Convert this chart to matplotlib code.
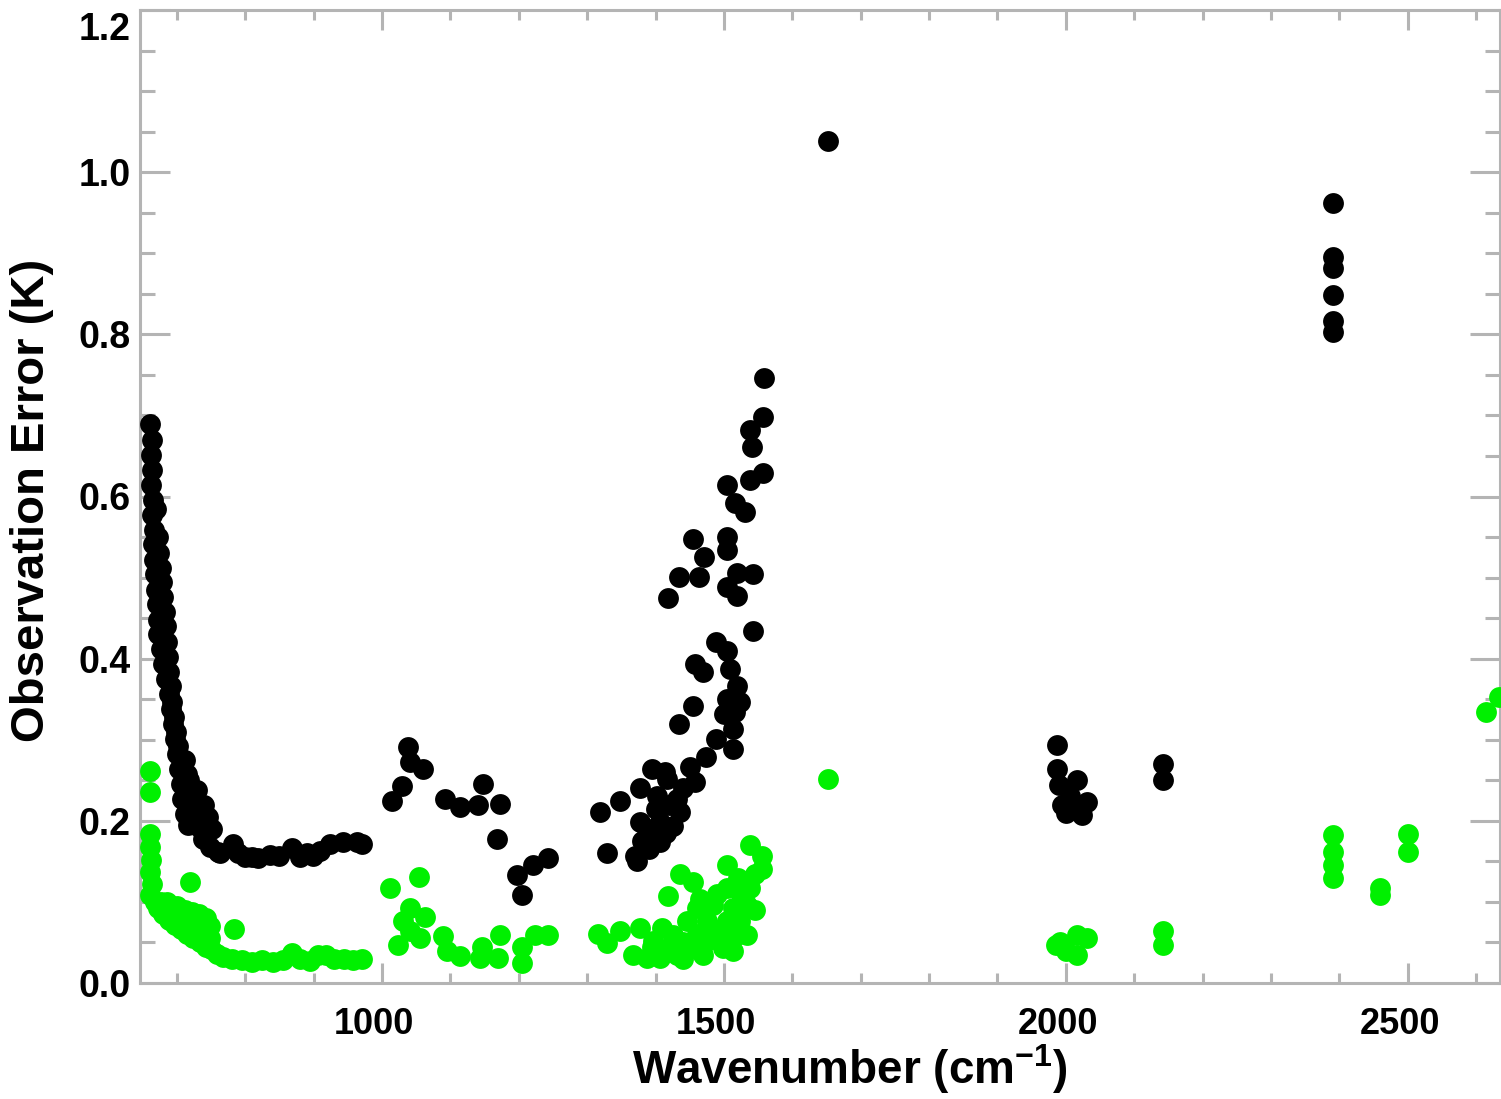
import matplotlib
matplotlib.use("Agg")
import matplotlib.pyplot as plt
import matplotlib.transforms as mtransforms
from matplotlib.ticker import FixedLocator, MultipleLocator, FuncFormatter

# ---------------- data ----------------
# black series: wavenumber (cm-1) and observation error (K)
black_wn = [
    661, 663, 662, 664, 662, 665, 663, 670, 666, 672, 665, 674, 667, 676, 668, 678, 669, 680,
    671, 682, 672, 684, 673, 686, 676, 687, 680, 689, 684, 691, 688, 693, 691, 695, 694, 698,
    697, 701, 700, 712, 703, 715, 706, 718, 730, 708, 722, 740, 712, 728, 745, 716, 732, 752,
    738, 748, 760,
    763, 782, 790, 800, 810, 819, 836, 850, 868, 880, 890, 899, 909, 924, 943, 963, 971,
    1038, 1060, 1041, 1029, 1015, 1092, 1114, 1140, 1173, 1148, 1168, 1197, 1221, 1243, 1205,
    1559, 1557, 1538, 1541, 1557, 1538, 1505, 1516, 1531, 1455, 1505, 1505, 1471, 1519, 1543,
    1434, 1464, 1505, 1519, 1418, 1543, 1489, 1505, 1458, 1470, 1509, 1519, 1505, 1524, 1455,
    1500, 1516, 1434, 1513, 1488, 1513, 1474, 1450, 1395, 1414,
    1458, 1417, 1377, 1348, 1319, 1402, 1431, 1436, 1377, 1407, 1426, 1388, 1407, 1370, 1329,
    1373, 1440, 1400, 1415, 1390, 1420, 1395, 1380,
    1652,
    1987, 1987, 1990, 2016, 1995, 2016, 2031, 2024, 2006, 2000,
    2142, 2142,
    2391, 2391, 2391, 2391, 2391, 2391,
]
black_err = [
    0.689, 0.670, 0.651, 0.633, 0.614, 0.596, 0.577, 0.585, 0.559, 0.550, 0.541, 0.530, 0.522,
    0.512, 0.504, 0.495, 0.485, 0.476, 0.467, 0.458, 0.448, 0.440, 0.430, 0.421, 0.412, 0.402,
    0.393, 0.384, 0.375, 0.366, 0.356, 0.347, 0.338, 0.328, 0.319, 0.310, 0.301, 0.292, 0.283,
    0.275, 0.264, 0.258, 0.246, 0.250, 0.238, 0.227, 0.230, 0.220, 0.209, 0.212, 0.205, 0.195,
    0.192, 0.190, 0.178, 0.168, 0.162,
    0.160, 0.172, 0.160, 0.156, 0.155, 0.154, 0.158, 0.157, 0.166, 0.156, 0.160, 0.157, 0.163,
    0.172, 0.174, 0.174, 0.172,
    0.291, 0.264, 0.273, 0.243, 0.224, 0.227, 0.217, 0.219, 0.221, 0.246, 0.178, 0.133, 0.145,
    0.154, 0.108,
    0.746, 0.698, 0.682, 0.661, 0.629, 0.620, 0.614, 0.592, 0.581, 0.547, 0.550, 0.534, 0.526,
    0.506, 0.504, 0.501, 0.501, 0.489, 0.477, 0.475, 0.434, 0.420, 0.409, 0.393, 0.383, 0.387,
    0.366, 0.350, 0.346, 0.342, 0.332, 0.334, 0.319, 0.313, 0.301, 0.289, 0.279, 0.267, 0.264,
    0.260,
    0.248, 0.252, 0.240, 0.224, 0.211, 0.231, 0.227, 0.211, 0.199, 0.199, 0.194, 0.182, 0.174,
    0.157, 0.160, 0.150, 0.240, 0.215, 0.185, 0.165, 0.220, 0.190, 0.175,
    1.038,
    0.293, 0.264, 0.244, 0.250, 0.219, 0.215, 0.223, 0.207, 0.231, 0.210,
    0.270, 0.250,
    0.962, 0.895, 0.882, 0.848, 0.817, 0.803,
]

# green series
green_wn = [
    661, 661, 661, 660, 662, 660, 663, 661, 668, 672, 676, 680, 686, 688, 692, 697, 700, 705,
    706, 712, 715, 716, 722, 724, 726, 732, 734, 736, 742, 742, 748, 748, 750, 719,
    758, 768, 783, 780, 795, 810, 825, 840, 855, 868, 880, 895, 907, 918, 930, 945, 958, 970,
    1012, 1054, 1041, 1063, 1031, 1023, 1056, 1041, 1089, 1095, 1114, 1146, 1143, 1170, 1173,
    1205, 1205, 1224, 1243,
    1316, 1348, 1329, 1377, 1410, 1367, 1388, 1407, 1431, 1455, 1475, 1499, 1513, 1519, 1534,
    1418, 1436, 1455, 1465, 1461, 1505, 1505, 1538, 1556, 1556, 1538, 1534, 1513, 1484, 1475,
    1446, 1426, 1396, 1505, 1524, 1546,
    1395, 1420, 1440, 1460, 1490, 1440, 1470, 1500, 1525, 1545, 1490, 1520,
    1652,
    1985, 2000, 2016, 2031, 2016, 1992,
    2142, 2142,
    2391, 2391, 2391, 2391,
    2460, 2460,
    2500, 2500,
    2615, 2634,
]
green_err = [
    0.262, 0.236, 0.184, 0.168, 0.152, 0.137, 0.122, 0.108, 0.100, 0.092, 0.100, 0.085, 0.100,
    0.078, 0.092, 0.072, 0.095, 0.083, 0.066, 0.090, 0.060, 0.075, 0.088, 0.055, 0.068, 0.085,
    0.050, 0.062, 0.080, 0.045, 0.070, 0.055, 0.042, 0.125,
    0.036, 0.032, 0.066, 0.030, 0.028, 0.026, 0.028, 0.026, 0.028, 0.037, 0.030, 0.027, 0.034,
    0.034, 0.030, 0.030, 0.028, 0.030,
    0.117, 0.131, 0.092, 0.082, 0.076, 0.047, 0.055, 0.064, 0.058, 0.039, 0.033, 0.045, 0.031,
    0.031, 0.059, 0.045, 0.025, 0.059, 0.059,
    0.061, 0.064, 0.049, 0.068, 0.068, 0.034, 0.031, 0.031, 0.034, 0.043, 0.052, 0.043, 0.039,
    0.059, 0.059, 0.107, 0.135, 0.125, 0.104, 0.092, 0.145, 0.117, 0.170, 0.157, 0.141, 0.117,
    0.096, 0.092, 0.096, 0.076, 0.076, 0.059, 0.052, 0.076, 0.076, 0.090,
    0.045, 0.045, 0.050, 0.060, 0.065, 0.030, 0.035, 0.060, 0.110, 0.135, 0.110, 0.130,
    0.252,
    0.047, 0.039, 0.059, 0.055, 0.035, 0.050,
    0.064, 0.047,
    0.182, 0.162, 0.145, 0.129,
    0.117, 0.108,
    0.184, 0.162,
    0.334, 0.353,
]

x_major_ticks = [1000, 1500, 2000, 2500]
y_major_ticks = [0.0, 0.2, 0.4, 0.6, 0.8, 1.0, 1.2]
x_label = "Wavenumber (cm$^{-1}$)"
y_label = "Observation Error (K)"

# ---------------- style ----------------
plt.rcParams["font.family"] = ["Liberation Sans", "DejaVu Sans"]
plt.rcParams["font.weight"] = "bold"
plt.rcParams["mathtext.fontset"] = "custom"
plt.rcParams["mathtext.rm"] = "Liberation Sans:bold"
plt.rcParams["mathtext.bf"] = "Liberation Sans:bold"
plt.rcParams["mathtext.it"] = "Liberation Sans:bold"
plt.rcParams["mathtext.default"] = "rm"

W, H = 1501, 1099
fig = plt.figure(figsize=(W / 100, H / 100), dpi=100)
ax = fig.add_axes([140 / W, 1 - 983 / H, 1360 / W, 973 / H])

ax.plot(black_wn, black_err, "o", ms=15, mew=0, color="black", zorder=3)
ax.plot(green_wn, green_err, "o", ms=15, mew=0, color="#00f000", zorder=3)

ax.set_xlim(646, 2635)
ax.set_ylim(0.0, 1.2)

axis_grey = "#b4b4b4"
for sp in ax.spines.values():
    sp.set_color(axis_grey)
    sp.set_linewidth(2.2)

ax.xaxis.set_major_locator(FixedLocator(x_major_ticks))
ax.xaxis.set_minor_locator(MultipleLocator(100))
ax.yaxis.set_major_locator(FixedLocator(y_major_ticks))
ax.yaxis.set_minor_locator(MultipleLocator(0.05))
ax.yaxis.set_major_formatter(FuncFormatter(lambda v, p: f"{v:.1f}"))
ax.xaxis.set_major_formatter(FuncFormatter(lambda v, p: f"{int(round(v))}"))

ax.tick_params(which="both", direction="in", top=True, right=True, color=axis_grey, width=2.2)
ax.tick_params(axis="x", which="major", length=14.4, labelsize=26, pad=17)
ax.tick_params(axis="x", which="minor", length=7.2)
ax.tick_params(axis="y", which="major", length=21.6, labelsize=27, pad=7)
ax.tick_params(axis="y", which="minor", length=10.8)

ax.set_xlabel(x_label, fontsize=33, fontweight="bold")
ax.set_ylabel(y_label, fontsize=34, fontweight="bold")
ax.xaxis.set_label_coords((850 - 140) / 1360, (983 - 1069) / 973)
ax.yaxis.set_label_coords((32 - 140) / 1360, (983 - 500) / 973)
ax.xaxis.label.set_verticalalignment("center")
ax.yaxis.label.set_verticalalignment("center")

fig.canvas.draw()
shift_x = mtransforms.ScaledTranslation(-8 / 100, 0, fig.dpi_scale_trans)
for lbl in ax.get_xticklabels():
    lbl.set_transform(lbl.get_transform() + shift_x)
shift_top = mtransforms.ScaledTranslation(0, -16 / 100, fig.dpi_scale_trans)
ylbls = ax.get_yticklabels()
ylbls[-1].set_transform(ylbls[-1].get_transform() + shift_top)

fig.savefig("out.png", dpi=100, facecolor="white")
